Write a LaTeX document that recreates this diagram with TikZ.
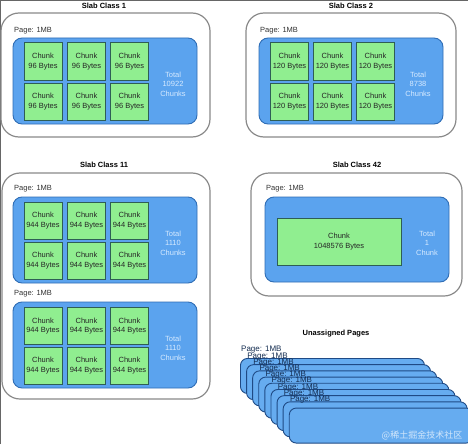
\documentclass[tikz,border=0pt]{standalone}
\usepackage{fontspec}
\setmainfont{Liberation Sans}
\newfontfamily\cjkfont{Noto Sans CJK SC}
\usepackage{xcolor}
\usepackage{tikz}
\definecolor{slabBlue}{HTML}{5BA3EE}
\definecolor{slabBlueDark}{HTML}{2F6DB5}
\definecolor{spareBlue}{HTML}{66ACF0}
\definecolor{spareEdge}{HTML}{1F4A85}
\definecolor{chunkGreen}{HTML}{90EE90}
\definecolor{chunkEdge}{HTML}{2E5E55}
\definecolor{panelGray}{HTML}{8A8A8A}
\definecolor{totalText}{HTML}{D6EAFF}

\begin{document}
\begin{tikzpicture}[
        x=1pt, y=-1pt,
        panel/.style={draw=panelGray, line width=1.2pt, fill=white, rounded corners=18pt},
        page/.style={draw=slabBlueDark, fill=slabBlue, line width=0.9pt, rounded corners=9pt, minimum width=184pt},
        spare/.style={draw=spareEdge, fill=spareBlue, line width=0.9pt, rounded corners=7pt, minimum width=184pt, minimum height=35pt, anchor=north west},
        chunk/.style={draw=chunkEdge, fill=chunkGreen, line width=1pt, minimum width=38pt, minimum height=37pt, inner sep=0pt, align=center, text=black!85, font=\fontsize{7.5}{9.3}\selectfont},
        total/.style={align=center, text=totalText, font=\fontsize{7.5}{9.5}\selectfont},
        title/.style={font=\fontsize{7.5}{9}\selectfont\bfseries},
        pagelabel/.style={anchor=west, inner sep=0pt, text=black!80, font=\fontsize{7.5}{9}\selectfont},
        sparelabel/.style={pagelabel, text=spareEdge!60!black, font=\fontsize{8}{9}\selectfont},
        watermark/.style={text=white, opacity=0.7, font=\cjkfont\fontsize{9}{10}\selectfont}
    ]
        \useasboundingbox (0,0) rectangle (468,444);
        \fill[white] (0,0) rectangle (468,444);
        \draw[black!60, line width=0.8pt] (0.4,444) -- (0.4,0.4) -- (468,0.4);

        % Slab Class 1
        \node[title] (t1) at (104,6) {Slab Class 1};
        \node[panel, minimum width=209pt, minimum height=124pt] (class1) at (105.5,75) {};
        \node[pagelabel] (l1) at (14,31) {Page: 1MB};
        \node[page, minimum height=86pt] (page1) at (105,81) {};
        \node[chunk] (c1a) at (43,61.5) {Chunk\\96 Bytes};
        \node[chunk] (c1b) at (86.5,61.5) {Chunk\\96 Bytes};
        \node[chunk] (c1c) at (129.5,61.5) {Chunk\\96 Bytes};
        \node[chunk] (c1d) at (43,101.5) {Chunk\\96 Bytes};
        \node[chunk] (c1e) at (86.5,101.5) {Chunk\\96 Bytes};
        \node[chunk] (c1f) at (129.5,101.5) {Chunk\\96 Bytes};
        \node[total] (n1) at (173,84) {Total\\10922\\Chunks};

        % Slab Class 2
        \node[title] (t2) at (351,6) {Slab Class 2};
        \node[panel, minimum width=210pt, minimum height=124pt] (class2) at (351,75) {};
        \node[pagelabel] (l2) at (260,31) {Page: 1MB};
        \node[page, minimum height=86pt] (page2) at (351,81) {};
        \node[chunk] (c2a) at (289.5,61.5) {Chunk\\120 Bytes};
        \node[chunk] (c2b) at (332.5,61.5) {Chunk\\120 Bytes};
        \node[chunk] (c2c) at (375.5,61.5) {Chunk\\120 Bytes};
        \node[chunk] (c2d) at (289.5,101.5) {Chunk\\120 Bytes};
        \node[chunk] (c2e) at (332.5,101.5) {Chunk\\120 Bytes};
        \node[chunk] (c2f) at (375.5,101.5) {Chunk\\120 Bytes};
        \node[total] (n2) at (418,84) {Total\\8738\\Chunks};

        % Slab Class 11
        \node[title] (t11) at (104,165) {Slab Class 11};
        \node[panel, minimum width=208pt, minimum height=226pt] (class11) at (106,286) {};
        \node[pagelabel] (l11a) at (14,189) {Page: 1MB};
        \node[page, minimum height=86pt] (page11a) at (105,240) {};
        \node[chunk] (c11a) at (43,220.5) {Chunk\\944 Bytes};
        \node[chunk] (c11b) at (86.5,220.5) {Chunk\\944 Bytes};
        \node[chunk] (c11c) at (129.5,220.5) {Chunk\\944 Bytes};
        \node[chunk] (c11d) at (43,260.5) {Chunk\\944 Bytes};
        \node[chunk] (c11e) at (86.5,260.5) {Chunk\\944 Bytes};
        \node[chunk] (c11f) at (129.5,260.5) {Chunk\\944 Bytes};
        \node[total] (n11a) at (173,243) {Total\\1110\\Chunks};
        \node[pagelabel] (l11b) at (14,294) {Page: 1MB};
        \node[page, minimum height=86pt] (page11b) at (105,345) {};
        \node[chunk] (c11g) at (43,326) {Chunk\\944 Bytes};
        \node[chunk] (c11h) at (86.5,326) {Chunk\\944 Bytes};
        \node[chunk] (c11i) at (129.5,326) {Chunk\\944 Bytes};
        \node[chunk] (c11j) at (43,365.5) {Chunk\\944 Bytes};
        \node[chunk] (c11k) at (86.5,365.5) {Chunk\\944 Bytes};
        \node[chunk] (c11l) at (129.5,365.5) {Chunk\\944 Bytes};
        \node[total] (n11b) at (173,348) {Total\\1110\\Chunks};

        % Slab Class 42
        \node[title] (t42) at (357,165) {Slab Class 42};
        \node[panel, minimum width=211pt, minimum height=123pt] (class42) at (356.5,234.5) {};
        \node[pagelabel] (l42) at (266,189) {Page: 1MB};
        \node[page, minimum height=85pt] (page42) at (357,239.5) {};
        \node[chunk, minimum width=124pt, minimum height=47pt] (c42) at (339,241.5) {Chunk\\1048576 Bytes};
        \node[total] (n42) at (427,243) {Total\\1\\Chunk};

        % Unassigned Pages
        \node[title] (tu) at (336,334) {Unassigned Pages};
        \node[spare] (u1) at (240,358) {};
        \node[sparelabel] (lu1) at (241,350) {Page: 1MB};
        \node[spare] (u2) at (246.1,364.2) {};
        \node[sparelabel] (lu2) at (247.1,356.2) {Page: 1MB};
        \node[spare] (u3) at (252.2,370.4) {};
        \node[sparelabel] (lu3) at (253.2,362.4) {Page: 1MB};
        \node[spare] (u4) at (258.3,376.6) {};
        \node[sparelabel] (lu4) at (259.3,368.6) {Page: 1MB};
        \node[spare] (u5) at (264.4,382.8) {};
        \node[sparelabel] (lu5) at (265.4,374.8) {Page: 1MB};
        \node[spare] (u6) at (270.5,389) {};
        \node[sparelabel] (lu6) at (271.5,381) {Page: 1MB};
        \node[spare] (u7) at (276.6,395.2) {};
        \node[sparelabel] (lu7) at (277.6,387.2) {Page: 1MB};
        \node[spare] (u8) at (282.7,401.4) {};
        \node[sparelabel] (lu8) at (283.7,393.4) {Page: 1MB};
        \node[spare] (u9) at (288.8,407.6) {};
        \node[sparelabel] (lu9) at (289.8,399.6) {Page: 1MB};

        \node[watermark] (wm) at (422,435) {@稀土掘金技术社区};
    \end{tikzpicture}
\end{document}
